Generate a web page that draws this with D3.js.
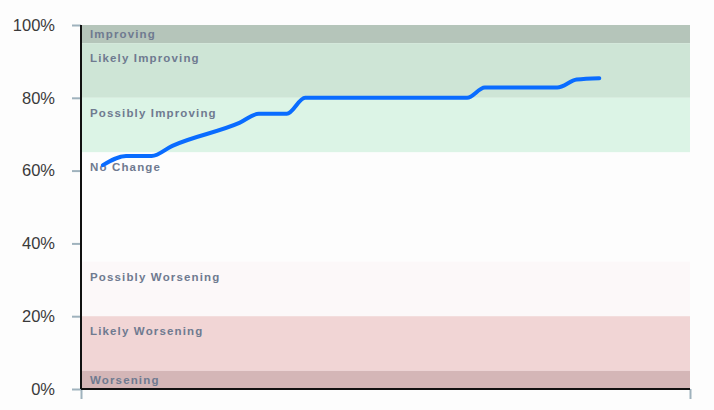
<!DOCTYPE html>
<html>
<head>
<meta charset="utf-8">
<script src="https://cdn.jsdelivr.net/npm/d3@7"></script>
<style>
html,body{margin:0;padding:0;background:#fdfdfd;}
svg{display:block;}
</style>
</head>
<body>
<svg id="chart" width="714" height="410"></svg>
<script>
// ---- data ----
const bandNames  = ["Improving","Likely Improving","Possibly Improving","No Change","Possibly Worsening","Likely Worsening","Worsening"];
const bandFrom   = [95, 80, 65, 35, 20, 5, 0];
const bandTo     = [100, 95, 80, 65, 35, 20, 5];
const bandColors = ["#b5c5ba","#cee5d6","#dcf4e6","#fdfdfd","#fcf8f9","#f1d5d5","#d4b6b7"];

const timeIdx  = [3.6, 7.4, 11.6, 15.0, 26.0, 29.2, 33.8, 36.8, 63.4, 66.3, 78.2, 81.4, 85.1];
const scoreVal = [61.5, 64.0, 64.0, 66.8, 73.1, 75.6, 75.6, 80.0, 80.0, 82.8, 82.8, 85.0, 85.4];

const yTickVals   = [0, 20, 40, 60, 80, 100];
const yTickLabels = ["0%","20%","40%","60%","80%","100%"];
const xDomain = [0, 100];

// ---- layout ----
const svg = d3.select("#chart");
const m = {left: 81, right: 24, top: 25, bottom: 21};
const W = 714, H = 410;
const x = d3.scaleLinear().domain(xDomain).range([m.left, W - m.right]);
const y = d3.scaleLinear().domain([0, 100]).range([H - m.bottom, m.top]);

// bands
const bands = bandNames.map((n, i) => ({name: n, from: bandFrom[i], to: bandTo[i], color: bandColors[i]}));
svg.append("g").selectAll("rect").data(bands).join("rect")
  .attr("x", x(xDomain[0]))
  .attr("width", x(xDomain[1]) - x(xDomain[0]))
  .attr("y", d => y(d.to))
  .attr("height", d => y(d.from) - y(d.to))
  .attr("fill", d => d.color);

svg.append("g").selectAll("text").data(bands).join("text")
  .attr("x", x(xDomain[0]) + 9)
  .attr("y", d => {
    const top = y(d.to), h = y(d.from) - y(d.to);
    return top + Math.min(15, h / 2) + 4;
  })
  .attr("font-family", "Helvetica, Arial, 'Liberation Sans', sans-serif")
  .attr("font-size", 11.5)
  .attr("font-weight", 600)
  .attr("letter-spacing", "1.15px")
  .attr("fill", "#6f7a90")
  .text(d => d.name);

// y axis
const yAxis = d3.axisLeft(y).tickValues(yTickVals).tickFormat((d, i) => yTickLabels[i]).tickSize(9).tickPadding(17);
const gy = svg.append("g").attr("transform", `translate(${m.left},0)`).call(yAxis);
gy.select(".domain").remove();
gy.selectAll(".tick line").attr("stroke", "#9fb2bd").attr("stroke-width", 2);
gy.selectAll(".tick text").attr("font-family", "Helvetica, Arial, 'Liberation Sans', sans-serif")
  .attr("font-size", 16.5).attr("fill", "#3a3a3a");

// x axis (ticks only at ends)
const xAxis = d3.axisBottom(x).tickValues(xDomain).tickFormat("").tickSize(10);
const gx = svg.append("g").attr("transform", `translate(0,${y(0)})`).call(xAxis);
gx.select(".domain").remove();
gx.selectAll(".tick line").attr("stroke", "#9fb2bd").attr("stroke-width", 2);

// axis lines
svg.append("line").attr("x1", x(xDomain[0])).attr("x2", x(xDomain[0]))
  .attr("y1", y(100)).attr("y2", y(0)).attr("stroke", "#111").attr("stroke-width", 2);
svg.append("line").attr("x1", x(xDomain[0])).attr("x2", x(xDomain[1]))
  .attr("y1", y(0)).attr("y2", y(0)).attr("stroke", "#111").attr("stroke-width", 2);

// line
const pts = timeIdx.map((t, i) => ({t, v: scoreVal[i]}));
svg.append("path").datum(pts)
  .attr("fill", "none")
  .attr("stroke", "#0a6cff")
  .attr("stroke-width", 4)
  .attr("stroke-linecap", "round")
  .attr("stroke-linejoin", "round")
  .attr("d", d3.line().x(d => x(d.t)).y(d => y(d.v)).curve(d3.curveMonotoneX));
</script>
</body>
</html>
